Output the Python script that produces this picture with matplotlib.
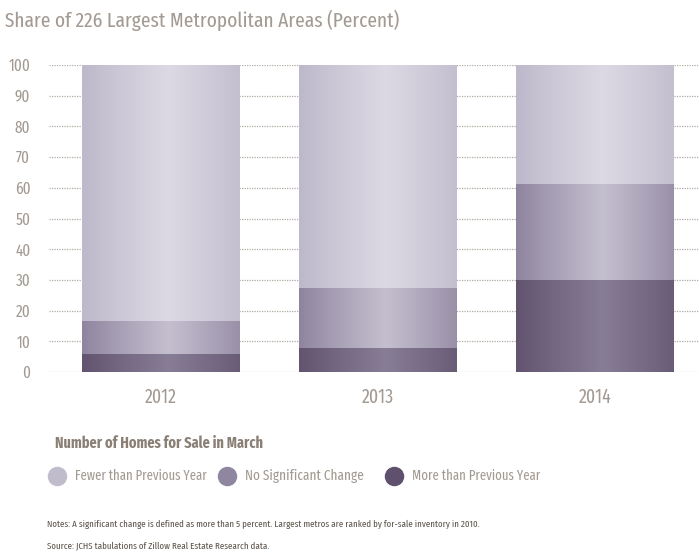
import os
import numpy as np
import matplotlib.pyplot as plt
from matplotlib import font_manager
from matplotlib.font_manager import FontProperties
from matplotlib.colors import LinearSegmentedColormap

# share of metros, percent (bottom to top)
years = ['2012', '2013', '2014']
more_than_prev = [6, 7.8, 30]
no_change = [10.5, 19.5, 31.2]
fewer_than_prev = [83.5, 72.7, 38.8]

series = [
    ('More than Previous Year', more_than_prev, '#62536f', '#877d95'),
    ('No Significant Change', no_change, '#8e849e', '#c4bfcf'),
    ('Fewer than Previous Year', fewer_than_prev, '#bdb8ca', '#dcd9e4'),
]
legend_names = ['Fewer than Previous Year', 'No Significant Change', 'More than Previous Year']
legend_cols = ['#c0bccc', '#8f86a0', '#5f506d']


def find_font(weight, keys, skip=()):
    # look for a narrow cut among the installed fonts
    for f in font_manager.fontManager.ttflist:
        fn = os.path.basename(f.fname).lower()
        if f.style != 'normal' or any(k in fn for k in skip):
            continue
        try:
            w = int(f.weight)
        except (TypeError, ValueError):
            w = 700 if 'bold' in str(f.weight) else 400
        if any(k in fn for k in keys) and abs(w - weight) < 50:
            return f.fname
    return None


reg = find_font(400, ['extracondensed'])
bold = find_font(700, ['extracondensed'])
if not reg:
    skip = ('extracondensed', 'semicondensed', 'ultracondensed')
    reg = find_font(400, ['condensed', 'narrow'], skip)
    bold = find_font(700, ['condensed', 'narrow'], skip)
fp = FontProperties(fname=reg) if reg else FontProperties(family='DejaVu Sans')
if bold:
    fpb = FontProperties(fname=bold)
else:
    fpb = fp.copy()
    fpb.set_weight('bold')
txt_col = '#a39b93'

fig = plt.figure(figsize=(6.99, 5.56), dpi=100)
ax = fig.add_axes([49/699, 1 - 372/556, 650/699, (372 - 65)/556])

x = np.arange(len(years))
bottom = np.zeros(len(years))
grad = np.linspace(0, 1, 200)
shape = np.clip(1 - np.abs(grad - 0.55) / 0.55, 0, 1) ** 0.9
for name, vals, edge, mid in series:
    bars = ax.bar(x, vals, 0.7235, bottom=bottom, color=edge, zorder=2)
    cmap = LinearSegmentedColormap.from_list(name, [edge, mid])
    for b in bars:
        x0, y0 = b.get_x(), b.get_y()
        im = ax.imshow(shape[None, :], cmap=cmap, vmin=0, vmax=1, aspect='auto',
                       extent=[x0, x0 + b.get_width(), y0, y0 + b.get_height()],
                       zorder=3, interpolation='bilinear')
        im.set_clip_path(b)
    bottom += np.array(vals)

ax.set_xlim(-0.514, 2.48)
ax.set_ylim(0, 100)
ax.set_yticks(range(0, 101, 10))
ax.yaxis.grid(True, linestyle=(0, (1, 1)), color='#b3aba2', linewidth=0.9, zorder=0)
ax.set_axisbelow(True)
for s in ax.spines.values():
    s.set_visible(False)
ax.tick_params(length=0, colors=txt_col)
ax.tick_params(axis='y', pad=13.5)
ax.tick_params(axis='x', pad=11)
ax.set_xticks(x)
ax.set_xticklabels(years)

renderer = fig.canvas.get_renderer()


def fit(t, width):
    # size a text so that it spans the width seen in the reference
    w = t.get_window_extent(renderer).width
    t.set_fontsize(t.get_fontsize() * width / w)


def fitted_size(s, width):
    probe = fig.text(0, 0, s, fontproperties=fp, fontsize=12)
    fit(probe, width)
    size = probe.get_fontsize()
    probe.remove()
    return size


title = fig.text(5/699, 1 - 20/556, 'Share of 226 Largest Metropolitan Areas (Percent)',
                 fontproperties=fp, fontsize=14, color=txt_col, va='center')
fit(title, 392)
head = fig.text(55/699, 1 - 443/556, 'Number of Homes for Sale in March',
                fontproperties=fpb, fontsize=13, color='#8a7f75', va='center')
fit(head, 208)

leg_x = [57, 227, 394]
leg_w = [132, 118, 128]
for px, name, col, lw in zip(leg_x, legend_names, legend_cols, leg_w):
    ax.plot([px / 699], [1 - 476 / 556], 'o', ms=13, color=col,
            transform=fig.transFigure, clip_on=False)
    t = fig.text((px + 18) / 699, 1 - 476/556, name, fontproperties=fp,
                 fontsize=12, color=txt_col, va='center')
    fit(t, lw)

notes = fig.text(47/699, 1 - 524/556,
                 'Notes: A significant change is defined as more than 5 percent. '
                 'Largest metros are ranked by for-sale inventory in 2010.',
                 fontproperties=fp, fontsize=7, color='#5e554d', va='center')
fit(notes, 433)
src = fig.text(47/699, 1 - 546/556,
               'Source: JCHS tabulations of Zillow Real Estate Research data.',
               fontproperties=fp, fontsize=notes.get_fontsize(), color='#5e554d',
               va='center')

# tick labels sized from the reference: "100" ~22 px, "2012" ~32 px wide
y_size = fitted_size('100', 22)
x_size = fitted_size('2012', 32)
for lab in ax.get_yticklabels():
    lab.set_fontproperties(fp)
    lab.set_fontsize(y_size)
for lab in ax.get_xticklabels():
    lab.set_fontproperties(fp)
    lab.set_fontsize(x_size)

fig.savefig('out.png', dpi=100)
